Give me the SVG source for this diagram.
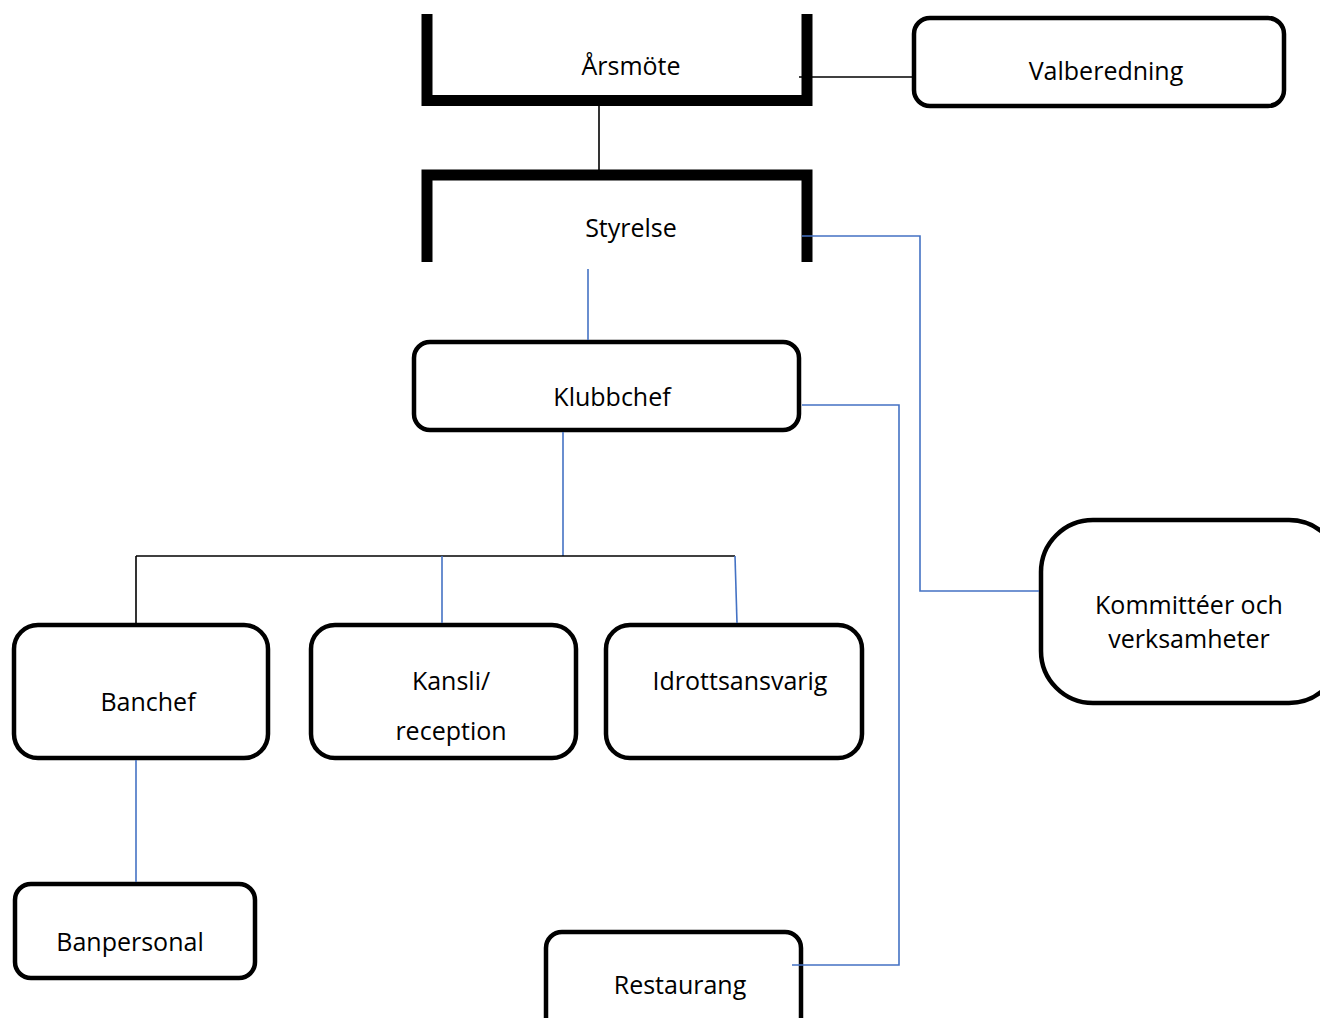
<svg xmlns="http://www.w3.org/2000/svg" width="1320" height="1018" viewBox="0 0 1320 1018">
<style>
.box{fill:#fff;stroke:#000;stroke-width:4.5}
.br{fill:none;stroke:#000;stroke-width:11;stroke-linejoin:miter}
.k{fill:none;stroke:#000;stroke-width:1.6}
.b{fill:none;stroke:#4472C4;stroke-width:1.6}
text{font-family:"Open Sans","Noto Sans",sans-serif;font-size:25px;fill:#000;text-anchor:middle}
</style>
<rect width="1320" height="1018" fill="#fff"/>
<g id="arsmote">
<path class="br" d="M427,14 V100.5 H807 V14"/>
<text x="631" y="75">Årsmöte</text>
</g>
<g id="styrelse">
<path class="br" d="M427,262 V175 H807 V262"/>
<text x="631" y="237">Styrelse</text>
</g>
<g id="valberedning">
<rect class="box" x="914" y="18" width="370" height="88" rx="16"/>
<text x="1106" y="80">Valberedning</text>
</g>
<g id="klubbchef">
<rect class="box" x="414" y="342" width="385" height="88" rx="16"/>
<text x="612" y="406">Klubbchef</text>
</g>
<g id="banchef">
<rect class="box" x="14" y="625" width="254" height="133" rx="24"/>
<text x="148" y="711">Banchef</text>
</g>
<g id="kansli">
<rect class="box" x="311" y="625" width="265" height="133" rx="24"/>
<text x="451" y="690">Kansli/</text>
<text x="451" y="740">reception</text>
</g>
<g id="idrottsansvarig">
<rect class="box" x="606" y="625" width="256" height="133" rx="24"/>
<text x="740" y="690">Idrottsansvarig</text>
</g>
<g id="kommitteer">
<rect class="box" x="1041" y="520" width="300" height="183" rx="52"/>
<text x="1189" y="614">Kommittéer och</text>
<text x="1189" y="648">verksamheter</text>
</g>
<g id="banpersonal">
<rect class="box" x="15" y="884" width="240" height="94" rx="16"/>
<text x="130" y="951">Banpersonal</text>
</g>
<g id="restaurang">
<rect class="box" x="546" y="932" width="255" height="110" rx="16"/>
<text x="680" y="994">Restaurang</text>
</g>
<g id="connectors">
<path class="k" d="M599,105 V170"/>
<path class="k" d="M799,77 H912"/>
<path class="b" d="M802,236 H920 V591 H1039"/>
<path class="b" d="M588,269 V340"/>
<path class="b" d="M802,405 H899 V965 H792"/>
<path class="b" d="M563,432 V556"/>
<path class="k" d="M136,556 H735"/>
<path class="k" d="M136,556 V623"/>
<path class="b" d="M442,556 V623"/>
<path class="b" d="M735,556 L737,623"/>
<path class="b" d="M136,760 V882"/>
</g>
</svg>
